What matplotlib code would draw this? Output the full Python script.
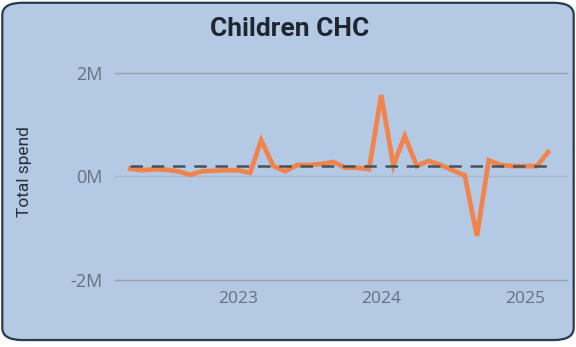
import matplotlib
matplotlib.use("Agg")
import matplotlib.pyplot as plt
import matplotlib.dates as mdates
from matplotlib.patches import FancyBboxPatch
from matplotlib.ticker import FuncFormatter
import numpy as np
import pandas as pd

# Monthly children's CHC spend, April 2022 - March 2025 (in £M)
months = pd.date_range("2022-04-01", periods=36, freq="MS")
spend_m = [0.15, 0.12, 0.14, 0.13, 0.10, 0.03, 0.10, 0.11, 0.12, 0.12,
           0.07, 0.70, 0.20, 0.10, 0.22, 0.22, 0.24, 0.28, 0.17, 0.17,
           0.14, 1.57, 0.21, 0.78, 0.20, 0.30, 0.22, 0.12, 0.02, -1.15,
           0.31, 0.22, 0.20, 0.20, 0.20, 0.47]
y_ticks = [-2, 0, 2]
year_ticks = ["2023", "2024", "2025"]

spend = np.array(spend_m)
average = spend.mean()

card_bg = "#b4c9e3"
fig = plt.figure(figsize=(5.76, 3.47), dpi=100)
fig.patch.set_facecolor("white")

# rounded card behind the chart
card = FancyBboxPatch((0.004, 0.02), 0.992, 0.972,
                      boxstyle="round,pad=0,rounding_size=0.035",
                      transform=fig.transFigure, facecolor=card_bg,
                      edgecolor="#2b3a4a", linewidth=1.6, zorder=-5)
fig.patches.append(card)

ax = fig.add_axes([0.2, 0.193, 0.784, 0.597])
ax.set_facecolor("none")
ax.set_zorder(2)

ax.plot(months, spend, color="#f0844c", linewidth=3.4, solid_joinstyle="miter",
        zorder=3)
ax.plot([months[0], months[-1]], [average, average], color="#45525c",
        linewidth=1.8, linestyle=(0, (5, 3.5)), zorder=4)

ax.set_ylim(-2, 2)
ax.set_xlim(mdates.date2num(months[0]) - 38, mdates.date2num(months[-1]) + 48)
ax.set_yticks(y_ticks)
ax.yaxis.set_major_formatter(FuncFormatter(lambda v, p: f"{v:.0f}M"))
ax.set_xticks([pd.Timestamp(f"{y}-01-01") for y in year_ticks])
ax.set_xticklabels(year_ticks)

for y, c in zip(y_ticks, ["#9aa3ad", "#a9b7c8", "#9aa3ad"]):
    ax.axhline(y, color=c, linewidth=1.0, zorder=1, clip_on=False)

for s in ax.spines.values():
    s.set_visible(False)
ax.tick_params(axis="both", length=0)
ax.tick_params(axis="y", pad=9, labelsize=13, labelcolor="#66717c")
ax.tick_params(axis="x", pad=8, labelsize=12.5, labelcolor="#66717c")
for lab in ax.get_xticklabels() + ax.get_yticklabels():
    lab.set_fontfamily("Open Sans")

fig.text(0.043, 0.505, "Total spend", rotation=90, ha="center", va="center",
         fontsize=12.5, color="#25303a", family="Roboto")
fig.text(0.503, 0.915, "Children CHC", ha="center", va="center",
         fontsize=19, fontweight="bold", color="#1e2730", family="Roboto")

fig.savefig("out.png", dpi=100, facecolor=fig.get_facecolor())
